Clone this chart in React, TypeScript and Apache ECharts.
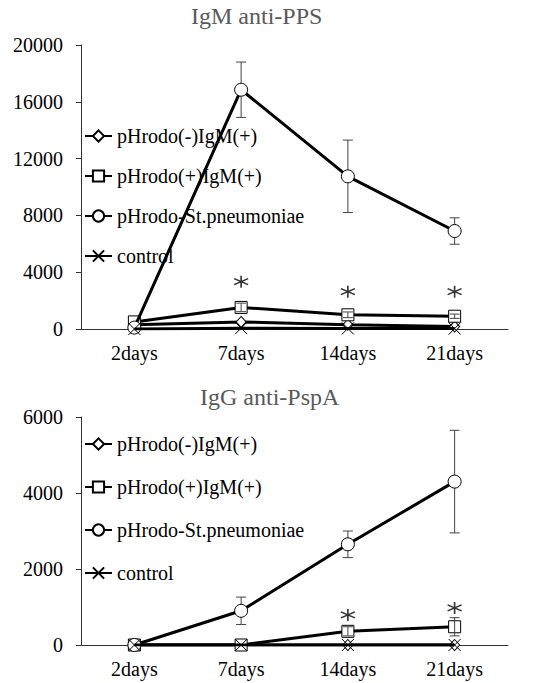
import React, { useEffect, useRef } from "react";
import * as echarts from "echarts";

const categories = ["2days", "7days", "14days", "21days"];
const seriesNames = ["pHrodo(-)IgM(+)", "pHrodo(+)IgM(+)", "pHrodo-St.pneumoniae", "control"];

// IgM anti-PPS
const igmNegPPS = [300, 500, 300, 170];
const igmPosPPS = [500, 1520, 1000, 900];
const pneumoPPS = [100, 16850, 10750, 6900];
const controlPPS = [0, 60, 40, 30];
const pneumoPPSsd = [0, 1950, 2550, 930];
const igmPosPPSsd = [0, 300, 200, 150];
const starPPS = [null, 3330, 2630, 2630];

// IgG anti-PspA
const igmNegPspA = [0, 0, 0, 0];
const igmPosPspA = [0, 0, 360, 480];
const pneumoPspA = [0, 900, 2650, 4300];
const controlPspA = [0, 0, 0, 0];
const pneumoPspAsd = [0, 360, 350, 1350];
const igmPosPspAsd = [0, 0, 120, 240];
const starPspA = [null, null, 790, 975];

const FONT = "'Liberation Serif', 'Times New Roman', Times, serif";
const crossPath = "path://M0,0L10,10M0,10L10,0";
const starPath = "path://M5,0L5,10M0.7,2.5L9.3,7.5M0.7,7.5L9.3,2.5";

const symbols = [
  { symbol: "diamond", size: [10, 11] },
  { symbol: "rect", size: 12 },
  { symbol: "circle", size: 13 },
  { symbol: crossPath, size: 12 },
];

function lineSeries(idx: number, name: string, data: number[], gi: number) {
  return {
    type: "line",
    name,
    xAxisIndex: gi,
    yAxisIndex: gi,
    data,
    symbol: symbols[idx].symbol,
    symbolSize: symbols[idx].size,
    showAllSymbol: true,
    lineStyle: { color: "#000", width: 3 },
    itemStyle: { color: "#fff", borderColor: "#000", borderWidth: 1 },
    z: 3 + idx,
  };
}

function errSeries(means: number[], sds: number[], gi: number, z: number) {
  const data = means
    .map((m, i) => [i, m - sds[i], m + sds[i], sds[i]])
    .filter((d) => d[3] > 0)
    .map((d) => [d[0], d[1], d[2]]);
  return {
    type: "custom",
    xAxisIndex: gi,
    yAxisIndex: gi,
    z,
    data,
    renderItem: (params: any, api: any) => {
      const x = api.value(0);
      const pHi = api.coord([x, api.value(2)]);
      const pLo = api.coord([x, api.value(1)]);
      const w = 5;
      const st = { stroke: "#444", lineWidth: 1 };
      return {
        type: "group",
        children: [
          { type: "line", shape: { x1: pHi[0], y1: pHi[1], x2: pLo[0], y2: pLo[1] }, style: st },
          { type: "line", shape: { x1: pHi[0] - w, y1: pHi[1], x2: pHi[0] + w, y2: pHi[1] }, style: st },
          { type: "line", shape: { x1: pLo[0] - w, y1: pLo[1], x2: pLo[0] + w, y2: pLo[1] }, style: st },
        ],
      };
    },
  };
}

function starSeries(vals: (number | null)[], gi: number) {
  return {
    type: "scatter",
    xAxisIndex: gi,
    yAxisIndex: gi,
    data: vals.map((v, i) => (v == null ? null : [i, v])).filter((d) => d != null),
    symbol: starPath,
    symbolSize: [14, 12],
    itemStyle: { color: "#000", borderColor: "#000", borderWidth: 1.5 },
    z: 10,
  };
}

const axisLabelStyle = { color: "#000", fontFamily: FONT, fontSize: 20 };

function yAxis(gi: number, max: number, interval: number) {
  return {
    type: "value",
    gridIndex: gi,
    min: 0,
    max,
    interval,
    splitLine: { show: false },
    axisLine: { show: true, lineStyle: { color: "#333", width: 1 } },
    axisTick: { show: true, length: 5, lineStyle: { color: "#333" } },
    axisLabel: { ...axisLabelStyle, margin: 18, formatter: (v: number) => String(v) },
  };
}

function xAxis(gi: number) {
  return {
    type: "category",
    gridIndex: gi,
    data: categories,
    boundaryGap: true,
    axisLine: { show: true, lineStyle: { color: "#333", width: 1 } },
    axisTick: { show: false },
    axisLabel: { ...axisLabelStyle, margin: 14, interval: 0 },
  };
}

const legendBase = {
  orient: "vertical",
  data: seriesNames,
  itemWidth: 27,
  itemHeight: 14,
  itemGap: 20,
  textStyle: { color: "#000", fontFamily: FONT, fontSize: 20 },
  selectedMode: false,
  padding: 0,
};

const titleStyle = { color: "#595959", fontFamily: FONT, fontSize: 24, fontWeight: "normal" };

export default function App() {
  const ref = useRef<HTMLDivElement>(null);
  useEffect(() => {
    if (!ref.current) return;
    const chart = echarts.init(ref.current, undefined, { renderer: "svg" });
    chart.setOption({
      animation: false,
      backgroundColor: "#fff",
      textStyle: { fontFamily: FONT },
      title: [
        { text: "IgM anti-PPS", left: 191, top: 4, padding: 0, textStyle: titleStyle },
        { text: "IgG anti-PspA", left: 200, top: 385, padding: 0, textStyle: titleStyle },
      ],
      legend: [
        { ...legendBase, left: 84, top: 126, itemGap: 20 },
        { ...legendBase, left: 84, top: 434, itemGap: 23 },
      ],
      grid: [
        { left: 81, top: 45, width: 427, height: 284 },
        { left: 81, top: 417, width: 427, height: 228 },
      ],
      xAxis: [xAxis(0), xAxis(1)],
      yAxis: [yAxis(0, 20000, 4000), yAxis(1, 6000, 2000)],
      series: [
        errSeries(pneumoPPS, pneumoPPSsd, 0, 2),
        lineSeries(3, seriesNames[3], controlPPS, 0),
        lineSeries(0, seriesNames[0], igmNegPPS, 0),
        lineSeries(1, seriesNames[1], igmPosPPS, 0),
        errSeries(igmPosPPS, igmPosPPSsd, 0, 8),
        lineSeries(2, seriesNames[2], pneumoPPS, 0),
        starSeries(starPPS, 0),
        errSeries(pneumoPspA, pneumoPspAsd, 1, 2),
        lineSeries(3, seriesNames[3], controlPspA, 1),
        lineSeries(0, seriesNames[0], igmNegPspA, 1),
        lineSeries(1, seriesNames[1], igmPosPspA, 1),
        errSeries(igmPosPspA, igmPosPspAsd, 1, 8),
        lineSeries(2, seriesNames[2], pneumoPspA, 1),
        starSeries(starPspA, 1),
      ],
    });
    return () => chart.dispose();
  }, []);
  return (
    <div
      ref={ref}
      style={{ position: "absolute", left: 0, top: 0, width: 536, height: 683 }}
    />
  );
}
